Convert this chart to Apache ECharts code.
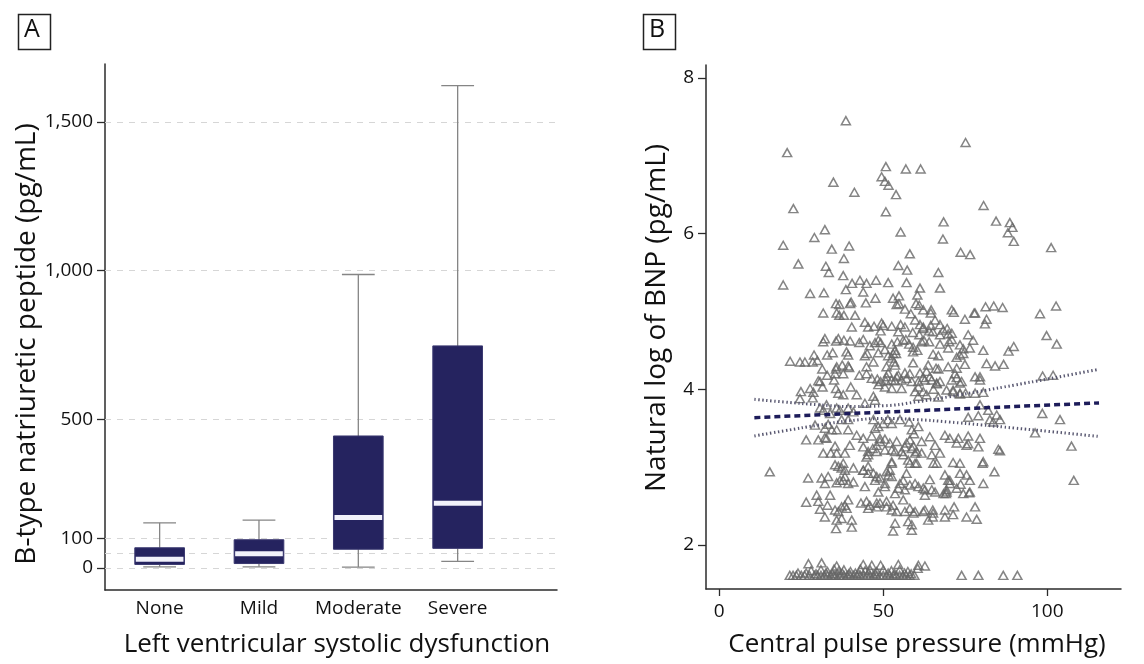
<!DOCTYPE html>
<html>
<head>
<meta charset="utf-8">
<script src="https://cdn.jsdelivr.net/npm/echarts@6/dist/echarts.min.js"></script>
<style>
  html, body { margin: 0; padding: 0; background: #fff; }
  #chart { width: 1144px; height: 664px; }
</style>
</head>
<body>
<div id="chart"></div>
<script>
// Panel A: BNP by degree of left ventricular systolic dysfunction (box summaries, pg/mL)
const categories = ['None', 'Mild', 'Moderate', 'Severe'];
const whiskerLow = [4, 4, 3, 22];
const quartile1 = [12, 15, 63, 66];
const medianBNP = [29, 48, 170, 218];
const quartile3 = [68, 95, 444, 747];
const whiskerHigh = [152, 161, 987, 1622];
const bnpTicks = [0, 100, 500, 1000, 1500];
const bnpGridLines = [0, 50, 100, 500, 1000, 1500];

// Panel B: ln(BNP) against central pulse pressure
const pulseTicks = [0, 50, 100];
const lnTicks = [2, 4, 6, 8];
const bnpPoints = [
  [38.6,7.45],[20.7,7.04],[75.1,7.17],[50.8,6.86],[56.9,6.83],[61.4,6.83],[49.5,6.73],[50.5,6.67],[51.6,6.62],[34.8,6.66],
  [41.2,6.53],[53.9,6.50],[22.6,6.32],[50.8,6.28],[80.6,6.36],[84.4,6.16],[88.6,6.14],[89.4,6.08],[88.0,6.01],[89.8,5.90],
  [68.4,6.15],[68.2,5.93],[55.3,6.02],[32.2,6.05],[29.0,5.95],[19.5,5.85],[34.3,5.80],[39.6,5.84],[38.0,5.68],[24.1,5.61],
  [32.5,5.58],[33.4,5.50],[58.1,5.74],[54.6,5.59],[57.3,5.53],[66.8,5.50],[73.6,5.76],[76.5,5.73],[101.2,5.82],[37.8,5.46],
  [19.5,5.34],[40.5,5.36],[42.9,5.40],[51.5,5.37],[38.6,5.28],[61.2,5.30],[27.7,5.23],[47.6,5.17],[54.8,5.20],[35.6,5.10],
  [36.6,5.09],[40.2,5.12],[54.1,5.09],[54.8,5.10],[56.6,5.03],[58.4,4.97],[64.6,5.02],[71.5,4.99],[77.7,4.98],[81.2,5.06],
  [83.7,5.07],[86.4,5.05],[102.7,5.07],[97.8,4.97],[74.9,4.90],[81.0,4.84],[31.7,4.98],[36.6,4.95],[38.0,4.95],[44.4,4.86],
  [47.2,4.81],[50.0,4.82],[49.2,4.75],[40.4,4.80],[56.6,4.80],[59.7,4.89],[61.2,4.83],[62.2,4.78],[64.5,4.82],[64.0,4.75],
  [59.0,4.73],[61.0,4.70],[69.8,4.71],[70.9,4.64],[99.8,4.69],[102.9,4.58],[89.8,4.55],[88.2,4.49],[32.2,4.65],[31.7,4.61],
  [35.6,4.62],[38.0,4.63],[42.7,4.60],[43.9,4.64],[45.9,4.56],[49.2,4.60],[52.6,4.58],[56.1,4.63],[56.9,4.64],[64.0,4.61],
  [67.3,4.58],[69.8,4.53],[74.4,4.52],[34.6,4.47],[28.9,4.44],[39.3,4.44],[45.1,4.46],[48.5,4.47],[53.6,4.50],[53.0,4.46],
  [65.2,4.45],[66.8,4.43],
  [21.6,4.36],[24.6,4.35],[26.1,4.35],[31.4,4.26],[35.8,4.29],[37.5,4.31],[39.3,4.30],[47.0,4.35],[53.3,4.35],[63.7,4.31],
  [66.1,4.27],[66.8,4.26],[74.9,4.32],[84.1,4.30],[86.7,4.32],[98.6,4.17],[101.8,4.18],[79.5,4.16],[30.2,4.11],[30.7,4.10],
  [32.9,4.18],[35.3,4.20],[37.8,4.20],[42.7,4.18],[44.9,4.20],[46.5,4.14],[48.2,4.13],[49.2,4.10],[50.8,4.11],[52.5,4.12],
  [53.6,4.11],[54.6,4.18],[56.6,4.21],[58.1,4.20],[60.7,4.10],[62.2,4.15],[64.8,4.12],[66.3,4.07],[67.3,4.10],[71.9,4.20],
  [72.4,4.15],[73.9,4.10],[48.5,4.06],[50.5,4.03],[52.6,4.01],[55.6,4.01],[24.9,3.97],[24.6,3.88],[27.7,4.01],[35.6,4.01],
  [36.3,3.95],[37.8,3.93],[41.9,3.93],[44.4,3.82],[47.0,3.91],[47.5,3.86],[59.7,3.97],[60.7,3.91],[62.2,3.97],[63.2,3.93],
  [65.3,4.00],[66.8,3.90],[71.3,3.97],[73.4,3.94],[75.1,3.95],[79.5,3.80],[82.0,3.73],[84.6,3.67],[82.5,3.61],[83.5,3.58],
  [85.6,3.61],[75.9,3.64],[79.0,3.66],[98.5,3.69],[103.9,3.61],[96.3,3.44],[107.4,3.27],[108.1,2.83],[15.4,2.94],[32.7,3.80],
  [31.7,3.73],[30.7,3.76],[33.8,3.69],[36.8,3.73],[39.3,3.76],[40.9,3.71],[37.3,3.61],[39.3,3.61],[29.2,3.54],[32.2,3.50],
  [34.3,3.48],[35.8,3.48],[39.3,3.48],[41.9,3.41],[43.9,3.37],[26.5,3.35],[32.2,3.38],[32.7,3.37],[35.3,3.27],[31.7,3.18],
  [34.0,3.18],[47.0,3.61],[47.5,3.50],[48.5,3.52],[50.0,3.56],[51.4,3.61],[52.6,3.56],[55.1,3.61],[57.9,3.58],[58.7,3.48],
  [59.4,3.43],[60.7,3.52],[43.9,3.26],[45.4,3.20],[44.9,3.13],[46.8,3.24],[48.0,3.28],[49.0,3.33],[50.5,3.36],[52.0,3.31],
  [52.6,3.22],[53.6,3.20],[55.6,3.20],[56.6,3.26],[58.1,3.35],[59.2,3.27],[60.2,3.20],[61.7,3.18],[35.3,3.03],[36.3,3.01],
  [37.3,2.99],[38.3,2.96],[37.8,3.05],[27.1,2.86],[33.2,2.88],[32.2,2.79],[35.8,2.80],[37.8,2.83],[40.9,2.81],[43.9,2.96],
  [45.4,3.01],[47.0,2.92],[48.0,2.88],[50.5,2.79],[51.6,2.90],[52.0,2.96],[52.6,3.05],[55.1,2.79],[54.6,2.73],[56.6,2.71],
  [58.1,2.77],[59.7,3.05],[60.2,3.05],[65.3,3.05],[68.8,2.90],[69.8,2.83],[68.4,2.66],[70.3,2.79],[73.4,3.05],[73.4,2.92],
  [73.6,2.78],[76.2,2.67],[80.3,3.05],[83.9,2.94],[62.2,2.73],[62.7,2.64],[64.2,2.84],[64.8,2.71],[65.8,2.68],[69.3,2.71],
  [68.8,3.41],[70.3,3.37],[72.4,3.31],[72.9,3.37],[75.9,3.30],[85.1,3.23],[85.6,3.21],[78.5,2.33],[71.6,2.49],[68.8,2.36],
  [26.5,2.55],[29.7,2.64],[30.7,2.46],[33.0,2.51],[32.2,2.36],[35.8,2.32],[35.6,2.21],[38.3,2.51],[39.3,2.58],[38.8,2.47],
  [43.2,2.54],[45.4,2.47],[45.9,2.51],[48.0,2.49],[49.0,2.54],[51.0,2.56],[52.6,2.45],[53.6,2.28],[54.1,2.43],[56.6,2.43],
  [57.6,2.30],[59.2,2.41],[62.2,2.43],[65.1,2.45],[65.1,2.36],[53.0,2.18],
  [44.9,5.36],[47.8,5.40],[43.9,5.25],[44.7,5.11],[53.0,5.17],[57.1,5.37],[60.4,5.21],[60.0,5.10],[61.0,5.08],[67.3,5.30],
  [62.2,5.02],[64.5,4.98],[65.8,4.89],[67.3,4.83],[68.3,4.76],[70.9,5.02],[78.0,4.98],[81.5,4.90],[49.5,4.85],[52.6,4.81],
  [55.3,4.83],[54.6,4.74],[45.4,4.80],[62.2,4.80],[65.1,4.74],[67.3,4.70],[69.5,4.78],[70.9,4.72],[62.4,4.63],[61.7,4.61],
  [70.1,4.61],[75.9,4.70],[77.4,4.63],[76.4,4.53],[73.4,4.57],[74.4,4.46],[72.4,4.41],[73.4,4.44],[80.5,4.50],[81.5,4.33],
  [48.5,4.63],[47.5,4.60],[54.3,4.61],[57.9,4.58],[59.1,4.54],[60.4,4.50],[59.1,4.48],[44.4,4.43],[50.5,4.51],[51.5,4.43],
  [52.6,4.40],[53.9,4.46],[59.1,4.34],[44.9,4.29],[51.0,4.29],[53.6,4.31],[61.2,4.21],[63.2,4.23],[64.2,4.16],[62.7,4.12],
  [51.0,4.16],[51.5,4.21],[54.1,4.16],[55.6,4.12],[57.1,4.14],[58.7,4.10],[60.7,4.03],[66.3,4.08],[69.8,4.29],[72.4,4.27],
  [70.9,4.12],[73.4,4.08],[78.0,4.16],[79.5,4.12],[69.3,3.99],[71.3,3.99],[73.4,3.95],[78.0,3.95],[80.5,3.96],
  [31.9,5.24],[39.9,5.10],[35.8,4.98],[41.4,4.95],[36.3,4.65],[39.9,4.62],[38.8,4.48],[28.5,4.35],[29.9,4.37],[32.9,4.44],
  [35.6,4.26],[39.6,4.28],[35.0,4.12],[31.5,4.03],[28.7,3.96],[28.5,3.89],[40.1,4.03],[35.8,3.76],[33.2,3.55],
  [46.5,3.40],[49.0,3.37],[54.1,3.33],[57.1,3.31],[58.7,3.24],[61.7,3.33],[64.2,3.39],[65.8,3.28],[64.8,3.16],[67.3,3.18],
  [75.9,3.40],[79.5,3.37],[75.4,3.28],[79.0,3.26],[45.4,3.16],[48.0,3.20],[50.5,3.22],[52.6,3.07],[56.1,3.16],[57.6,3.09],
  [58.1,3.05],[59.7,3.18],[66.3,3.05],[71.3,3.06],[80.5,3.07],[43.9,2.96],[45.4,2.92],[47.5,2.83],[49.0,2.86],[51.0,2.94],
  [52.6,2.88],[56.1,2.83],[57.1,2.92],[59.7,2.79],[60.7,2.75],[62.7,2.71],[70.3,2.83],[75.4,2.90],[76.4,2.83],[72.4,2.73],
  [69.3,2.68],[80.5,2.79],[44.4,2.75],[48.5,2.68],[50.5,2.75],[53.6,2.66],[56.1,2.58],[58.1,2.47],[59.7,2.43],[62.7,2.45],
  [65.2,2.41],[68.8,2.45],[71.3,2.39],[44.9,2.56],[48.0,2.54],[51.0,2.49],[53.0,2.51],[78.0,2.49],[75.4,2.36],[58.7,2.26],
  [58.7,2.19],[63.7,2.32],[69.1,2.66],[74.4,2.66],[76.4,2.68],
  [30.2,3.35],[35.8,3.18],[38.3,3.18],[39.8,3.28],[40.9,2.99],[31.2,2.86],[36.8,2.83],[38.3,2.88],[39.3,2.79],[33.8,2.64],
  [30.2,2.56],[35.3,2.45],[37.3,2.49],[36.3,2.43],[37.3,2.34],[40.4,2.32],[40.4,2.23],[31.2,1.77],
  [21.5,1.61],[22.5,1.61],[23.5,1.61],[25.0,1.61],[26.0,1.61],[27.5,1.61],[29.0,1.61],[30.0,1.61],[31.0,1.61],[32.0,1.61],
  [33.0,1.61],[34.0,1.61],[35.0,1.61],[35.5,1.61],[36.5,1.61],[37.0,1.61],[38.0,1.61],[39.0,1.61],[40.0,1.61],[41.0,1.61],
  [42.0,1.61],[43.0,1.61],[44.0,1.61],[45.0,1.61],[46.0,1.61],[47.0,1.61],[48.0,1.61],[49.0,1.61],[50.0,1.61],[51.0,1.61],
  [52.0,1.61],[53.0,1.61],[54.0,1.61],[55.0,1.61],[56.0,1.61],[57.0,1.61],[58.0,1.61],[59.5,1.61],
  [24.0,1.64],[26.5,1.64],[29.5,1.63],[32.5,1.64],[34.5,1.63],[37.5,1.64],[39.5,1.63],[41.5,1.64],[42.5,1.63],[45.5,1.64],
  [47.5,1.63],[51.5,1.64],[53.5,1.63],[56.5,1.64],[58.5,1.63],
  [28.0,1.67],[31.0,1.68],[33.0,1.66],[35.0,1.69],[36.5,1.67],[38.0,1.68],[40.0,1.66],[43.0,1.69],[44.5,1.67],[46.0,1.68],
  [48.0,1.66],[50.0,1.68],[52.5,1.67],[55.0,1.68],[57.5,1.66],[60.5,1.70],
  [27.2,1.76],[35.8,1.73],[43.9,1.75],[46.5,1.74],[49.2,1.74],[54.6,1.75],[60.7,1.74],[62.7,1.73],
  [73.9,1.61],[79.0,1.61],[86.6,1.61],[90.9,1.61]
];
// Fitted regression line and its 95% confidence band
const fitX = [10.7, 115.8];
const fitY = [3.636, 3.825];
const bandX = [10.7, 20, 30, 40, 50, 60, 70, 80, 90, 100, 115.8];
const bandUpper = [3.871, 3.836, 3.802, 3.779, 3.788, 3.837, 3.904, 3.978, 4.054, 4.131, 4.256];
const bandLower = [3.401, 3.468, 3.538, 3.597, 3.624, 3.611, 3.580, 3.542, 3.502, 3.461, 3.394];

const FONT = 'Open Sans';
const NAVY = '#25235f';
const AXIS = '#2b2b2b';
const pair = (xs, ys) => xs.map((x, i) => [x, ys[i]]);

const chart = echarts.init(document.getElementById('chart'), null, { renderer: 'canvas' });

const boxData = categories.map((c, i) =>
  [i + 1, whiskerLow[i], quartile1[i], medianBNP[i], quartile3[i], whiskerHigh[i]]);

function renderBox(params, api) {
  const x = api.value(0);
  const lo = api.coord([x, api.value(1)]);
  const q1 = api.coord([x, api.value(2)]);
  const md = api.coord([x, api.value(3)]);
  const q3 = api.coord([x, api.value(4)]);
  const hi = api.coord([x, api.value(5)]);
  const bw = api.size([0.5, 0])[0];
  const cw = api.size([0.33, 0])[0];
  const cx = q1[0];
  const whisker = { stroke: '#858585', lineWidth: 1.3 };
  return {
    type: 'group',
    children: [
      { type: 'line', shape: { x1: cx, y1: q3[1], x2: cx, y2: hi[1] }, style: whisker },
      { type: 'line', shape: { x1: cx - cw / 2, y1: hi[1], x2: cx + cw / 2, y2: hi[1] }, style: whisker },
      { type: 'line', shape: { x1: cx, y1: q1[1], x2: cx, y2: lo[1] }, style: whisker },
      { type: 'line', shape: { x1: cx - cw / 2, y1: lo[1], x2: cx + cw / 2, y2: lo[1] }, style: whisker },
      { type: 'rect', shape: { x: cx - bw / 2, y: q3[1], width: bw, height: q1[1] - q3[1] },
        style: { fill: NAVY, stroke: '#3a3870', lineWidth: 1 } },
      { type: 'rect', shape: { x: cx - bw / 2 + 1, y: md[1] - 2.5, width: bw - 2, height: 5 },
        style: { fill: '#f1f1fa' } }
    ]
  };
}

const tickFont = { fontFamily: FONT, fontSize: 19, color: '#111' };
const titleFont = '26px "Open Sans"';
const yTitleFont = '28px "Open Sans"';

chart.setOption({
  animation: false,
  grid: [
    { left: 105, top: 64, width: 452, height: 526 },
    { left: 706, top: 65, width: 415, height: 524 }
  ],
  xAxis: [
    {
      gridIndex: 0, type: 'value', min: 0.45, max: 5.0,
      axisLine: { show: true, onZero: false, lineStyle: { color: AXIS, width: 1.5 } },
      axisTick: { show: false },
      splitLine: { show: false },
      axisLabel: {
        customValues: [1, 2, 3, 4], margin: 9, ...tickFont,
        formatter: v => categories[Math.round(v) - 1] || ''
      }
    },
    {
      gridIndex: 1, type: 'value', min: -4.05, max: 122.5,
      axisLine: { show: true, onZero: false, lineStyle: { color: AXIS, width: 1.5 } },
      axisTick: { show: true, customValues: pulseTicks, length: 7, lineStyle: { color: AXIS, width: 1.3 } },
      splitLine: { show: false },
      axisLabel: { customValues: pulseTicks, margin: 13, ...tickFont }
    }
  ],
  yAxis: [
    {
      gridIndex: 0, type: 'value', min: -74, max: 1695,
      axisLine: { show: true, onZero: false, lineStyle: { color: AXIS, width: 1.5 } },
      axisTick: { show: true, customValues: bnpTicks, length: 8, lineStyle: { color: AXIS, width: 1.3 } },
      splitLine: { show: false },
      axisLabel: {
        customValues: bnpTicks, margin: 12, ...tickFont,
        formatter: v => v.toLocaleString('en-US')
      }
    },
    {
      gridIndex: 1, type: 'value', min: 1.435, max: 8.165,
      axisLine: { show: true, onZero: false, lineStyle: { color: AXIS, width: 1.5 } },
      axisTick: { show: true, customValues: lnTicks, length: 8, lineStyle: { color: AXIS, width: 1.3 } },
      splitLine: { show: false },
      axisLabel: { customValues: lnTicks, margin: 12, ...tickFont }
    }
  ],
  series: [
    {
      // dashed reference lines, kept behind the boxes
      type: 'line', xAxisIndex: 0, yAxisIndex: 0, data: [], silent: true, z: 1,
      markLine: {
        silent: true, symbol: 'none', label: { show: false }, animation: false, z: 1,
        lineStyle: { color: '#d6d6d6', type: [6, 6], width: 1 },
        data: bnpGridLines.map(v => ({ yAxis: v }))
      }
    },
    {
      type: 'custom', xAxisIndex: 0, yAxisIndex: 0, z: 6,
      data: boxData,
      encode: { x: 0, y: [1, 2, 3, 4, 5] },
      renderItem: renderBox
    },
    {
      type: 'scatter', xAxisIndex: 1, yAxisIndex: 1,
      data: bnpPoints,
      symbol: 'triangle', symbolSize: [9, 8],
      itemStyle: { color: 'rgba(0,0,0,0)', borderColor: '#666', borderWidth: 1.5 },
      z: 2
    },
    {
      type: 'line', xAxisIndex: 1, yAxisIndex: 1, data: pair(bandX, bandUpper),
      showSymbol: false, smooth: true, z: 4,
      lineStyle: { color: '#57566f', width: 3, type: [1.4, 2.6] }
    },
    {
      type: 'line', xAxisIndex: 1, yAxisIndex: 1, data: pair(bandX, bandLower),
      showSymbol: false, smooth: true, z: 4,
      lineStyle: { color: '#57566f', width: 3, type: [1.4, 2.6] }
    },
    {
      type: 'line', xAxisIndex: 1, yAxisIndex: 1, data: pair(fitX, fitY),
      showSymbol: false, z: 5,
      lineStyle: { color: '#1d1c5a', width: 3.5, type: [6, 4] }
    }
  ],
  graphic: [
    { type: 'rect', left: 16, top: 12, shape: { width: 32, height: 35 },
      style: { fill: 'none', stroke: '#222', lineWidth: 1.5 } },
    { type: 'text', x: 32, y: 30, style: { text: 'A', font: '25px "Open Sans"', fill: '#111',
      textAlign: 'center', textVerticalAlign: 'middle' } },
    { type: 'rect', left: 641, top: 12, shape: { width: 32, height: 35 },
      style: { fill: 'none', stroke: '#222', lineWidth: 1.5 } },
    { type: 'text', x: 657, y: 30, style: { text: 'B', font: '25px "Open Sans"', fill: '#111',
      textAlign: 'center', textVerticalAlign: 'middle' } },
    { type: 'text', x: 27, y: 344, rotation: Math.PI / 2,
      style: { text: 'B-type natriuretic peptide (pg/mL)', font: yTitleFont, fill: '#111',
        textAlign: 'center', textVerticalAlign: 'middle' } },
    { type: 'text', x: 337, y: 645,
      style: { text: 'Left ventricular systolic dysfunction', font: titleFont, fill: '#111',
        textAlign: 'center', textVerticalAlign: 'middle' } },
    { type: 'text', x: 657, y: 318, rotation: Math.PI / 2,
      style: { text: 'Natural log of BNP (pg/mL)', font: yTitleFont, fill: '#111',
        textAlign: 'center', textVerticalAlign: 'middle' } },
    { type: 'text', x: 917, y: 645,
      style: { text: 'Central pulse pressure (mmHg)', font: titleFont, fill: '#111',
        textAlign: 'center', textVerticalAlign: 'middle' } }
  ]
});
</script>
</body>
</html>
